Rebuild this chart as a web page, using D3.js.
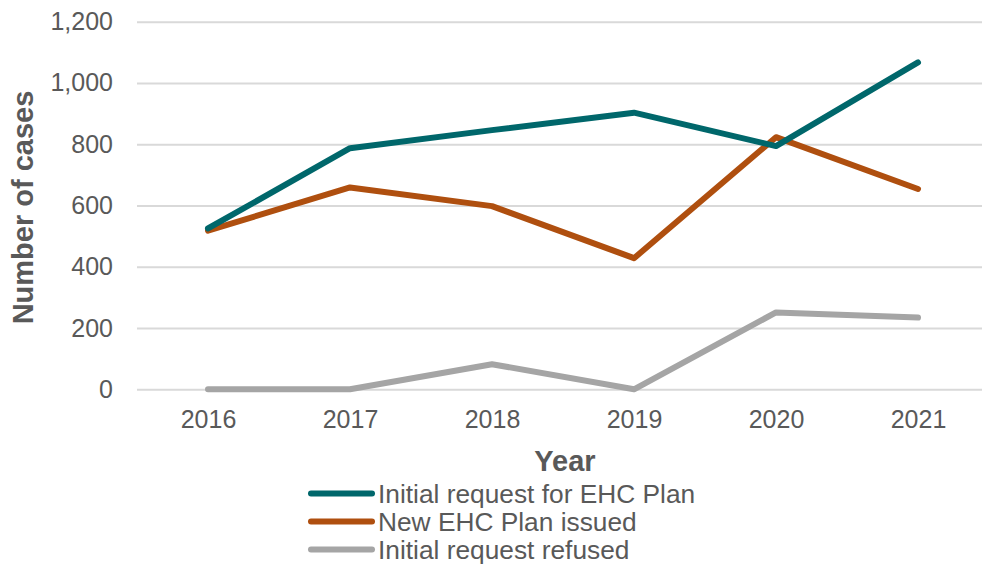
<!DOCTYPE html>
<html>
<head>
<meta charset="utf-8">
<script src="https://cdn.jsdelivr.net/npm/d3@7/dist/d3.min.js"></script>
<style>
  html, body { margin: 0; padding: 0; background: #fff; }
  svg { display: block; font-family: "Liberation Sans", Arial, sans-serif; }
</style>
</head>
<body>
<svg id="chart" width="982" height="568"></svg>
<script>
// Years on the category axis
const years = ["2016", "2017", "2018", "2019", "2020", "2021"];

// Series values (number of cases)
const initialRequest = [525, 787, 846, 903, 794, 1067];
const newPlanIssued = [518, 659, 598, 428, 823, 654];
const requestRefused = [0, 0, 82, 0, 251, 234];

// Y-axis ticks
const yTicks = [0, 200, 400, 600, 800, 1000, 1200];

const seriesNames = ["Initial request for EHC Plan", "New EHC Plan issued", "Initial request refused"];
const seriesColors = ["#00676B", "#AF4F0F", "#A5A5A5"];

const series = [initialRequest, newPlanIssued, requestRefused].map((vals, i) => ({
  name: seriesNames[i],
  color: seriesColors[i],
  values: vals.map((v, j) => ({ year: years[j], value: v }))
}));

const svg = d3.select("#chart");
const plot = { left: 137, right: 989, top: 21.7, bottom: 389.3 };

const x = d3.scalePoint().domain(years).range([plot.left, plot.right]).padding(0.5);
const y = d3.scaleLinear().domain([0, 1200]).range([plot.bottom, plot.top]);

const textColor = "#595959";
const lineWidth = 6;

// Horizontal gridlines + y tick labels
const yAxis = d3.axisLeft(y)
  .tickValues(yTicks)
  .tickFormat(d3.format(","))
  .tickSize(-(plot.right - plot.left))
  .tickPadding(24);

const gy = svg.append("g")
  .attr("transform", `translate(${plot.left},0)`)
  .call(yAxis);
gy.select(".domain").remove();
gy.selectAll(".tick line").attr("stroke", "#D9D9D9").attr("stroke-width", 2);
gy.selectAll(".tick text")
  .attr("fill", textColor)
  .attr("font-size", 25)
  .attr("font-family", "Liberation Sans, Arial, sans-serif");

// X axis labels (no line)
const xAxis = d3.axisBottom(x).tickSize(0).tickPadding(21);
const gx = svg.append("g")
  .attr("transform", `translate(0,${plot.bottom})`)
  .call(xAxis);
gx.select(".domain").remove();
gx.selectAll(".tick text")
  .attr("fill", textColor)
  .attr("font-size", 25)
  .attr("font-family", "Liberation Sans, Arial, sans-serif");

// Lines
const line = d3.line()
  .x(d => x(d.year))
  .y(d => y(d.value));

// Draw refused first so the main series sit on top
[...series].reverse().forEach(s => {
  svg.append("path")
    .datum(s.values)
    .attr("d", line)
    .attr("fill", "none")
    .attr("stroke", s.color)
    .attr("stroke-width", lineWidth)
    .attr("stroke-linejoin", "round")
    .attr("stroke-linecap", "round");
});

// Axis titles
svg.append("text")
  .attr("transform", "translate(33,207.5) rotate(-90)")
  .attr("text-anchor", "middle")
  .attr("font-size", 29)
  .attr("font-weight", "bold")
  .attr("fill", textColor)
  .text("Number of cases");

svg.append("text")
  .attr("x", 565)
  .attr("y", 471)
  .attr("text-anchor", "middle")
  .attr("font-size", 29)
  .attr("font-weight", "bold")
  .attr("fill", textColor)
  .text("Year");

// Legend
const legend = svg.append("g").attr("transform", "translate(311,493.5)");
series.forEach((s, i) => {
  const row = legend.append("g").attr("transform", `translate(0,${i * 28})`);
  row.append("line")
    .attr("x1", 0).attr("x2", 61)
    .attr("y1", 0).attr("y2", 0)
    .attr("stroke", s.color)
    .attr("stroke-width", lineWidth)
    .attr("stroke-linecap", "round");
  row.append("text")
    .attr("x", 67)
    .attr("y", 0)
    .attr("dy", "0.36em")
    .attr("font-size", 26.3)
    .attr("fill", textColor)
    .text(s.name);
});
</script>
</body>
</html>
